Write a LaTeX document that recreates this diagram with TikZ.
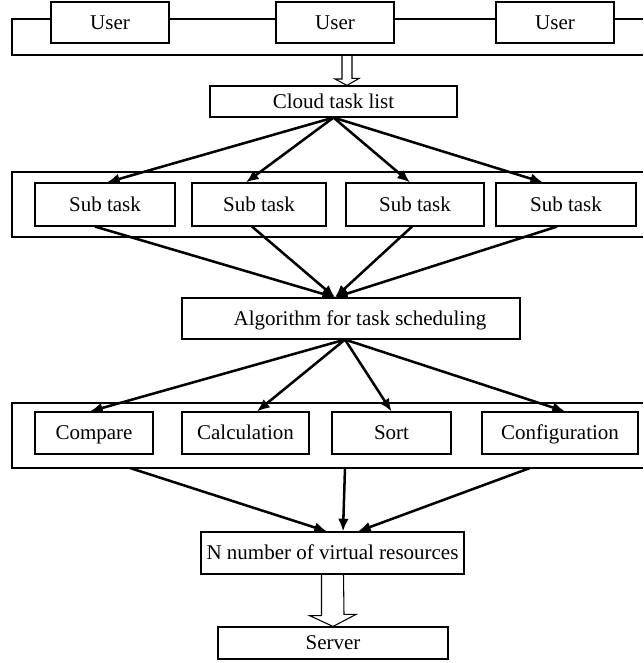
\documentclass[tikz,border=0pt]{standalone}
\usepackage{fontspec}
\setmainfont{Liberation Serif}
\usetikzlibrary{arrows.meta}
\tikzset{
  box/.style={draw, line width=0.85pt, fill=white, inner sep=0pt,
    text height=12.5pt, text depth=2.5pt,
    font=\fontsize{15.75pt}{18pt}\selectfont},
  boxw/.style={minimum width=#1*0.75pt},
  boxh/.style={minimum height=#1*0.75pt},
  frame/.style={line width=1.1pt},
  arr/.style={line width=1.9pt, -{Latex[length=9.5pt,width=8pt]}},
  hollow/.style={line width=0.8pt, line join=miter}
}
\begin{document}
\begin{tikzpicture}[x=0.75pt,y=-0.75pt]
      \useasboundingbox (0,0) rectangle (643,663);
      % open frames behind the rows
      \draw[frame] (643,19) -| (12,55) -- (643,55);
      \draw[frame] (643,172) -| (12,237) -- (643,237);
      \draw[frame] (643,403) -| (12,468) -- (643,468);
      \coordinate (ubot) at (347,55);
      \coordinate (f1) at (130,468);
      \coordinate (f2) at (345,468);
      \coordinate (f3) at (530,468);
      % users
      \node[box, boxw=118, boxh=41] (u1) at (110,22.5) {User};
      \node[box, boxw=118, boxh=41] (u2) at (335,22.5) {User};
      \node[box, boxw=118, boxh=41] (u3) at (555,22.5) {User};
      \node[box, boxw=247, boxh=31] (cloud) at (333.5,101.5) {Cloud task list};
      % sub tasks
      \node[box, boxw=140, boxh=43] (s1) at (105,204.5) {Sub task};
      \node[box, boxw=134, boxh=43] (s2) at (259,204.5) {Sub task};
      \node[box, boxw=138, boxh=43] (s3) at (415,204.5) {Sub task};
      \node[box, boxw=140, boxh=43] (s4) at (566,204.5) {Sub task};
      \node[box, boxw=338, boxh=41] (alg) at (351,318.5)
        {\hspace*{13.5pt}Algorithm for task scheduling};
      % scheduling steps
      \node[box, boxw=118, boxh=42] (cmp) at (94,433) {Compare};
      \node[box, boxw=127, boxh=42] (calc) at (245.5,433) {Calculation};
      \node[box, boxw=119, boxh=42] (sort) at (391.5,433) {Sort};
      \node[box, boxw=156, boxh=42] (conf) at (560,433) {Configuration};
      \node[box, boxw=263, boxh=42] (nres) at (332.5,553)
        {N number of virtual resources};
      \node[box, boxw=230, boxh=32] (server) at (333,643) {Server};
      % hollow arrows
      \draw[hollow] ([shift={(-5,0)}]ubot) -- ++(0,24) -- ++(-7,0)
        -- ([shift={(13.5,0)}]cloud.north) -- ++(12,-7) -- ++(-7,0)
        -- ([shift={(5,0)}]ubot);
      \draw[hollow] ([shift={(-11,0)}]nres.south) -- ++(0,41) -- ++(-12,0)
        -- (server.north) -- ++(23,-12) -- ++(-12,0)
        -- ([shift={(11,0)}]nres.south);
      \begin{scope}[arr]
        \draw (cloud.south) -- ([shift={(2,0)}]s1.north);
        \draw (cloud.south) -- ([shift={(-13,0)}]s2.north);
        \draw (cloud.south) -- ([shift={(-5,0)}]s3.north);
        \draw (cloud.south) -- ([shift={(-23,0)}]s4.north);
        \draw ([shift={(-10,0)}]s1.south) -- ([shift={(-16,0)}]alg.north);
        \draw ([shift={(-7,0)}]s2.south) -- ([shift={(-16,0)}]alg.north);
        \draw ([shift={(-3,0)}]s3.south) -- ([shift={(-16,0)}]alg.north);
        \draw ([shift={(-9,0)}]s4.south) -- ([shift={(-16,0)}]alg.north);
        \draw ([shift={(-6,0)}]alg.south) -- ([shift={(-4,0)}]cmp.north);
        \draw ([shift={(-6,0)}]alg.south) -- ([shift={(11.5,0)}]calc.north);
        \draw ([shift={(-6,0)}]alg.south) -- (sort.north);
        \draw ([shift={(-6,0)}]alg.south) -- ([shift={(5,0)}]conf.north);
        \draw (f1) -- ([shift={(-5.5,0)}]nres.north);
        \draw (f2) -- ([shift={(10.5,0)}]nres.north);
        \draw (f3) -- ([shift={(25.5,0)}]nres.north);
      \end{scope}
    \end{tikzpicture}
\end{document}
